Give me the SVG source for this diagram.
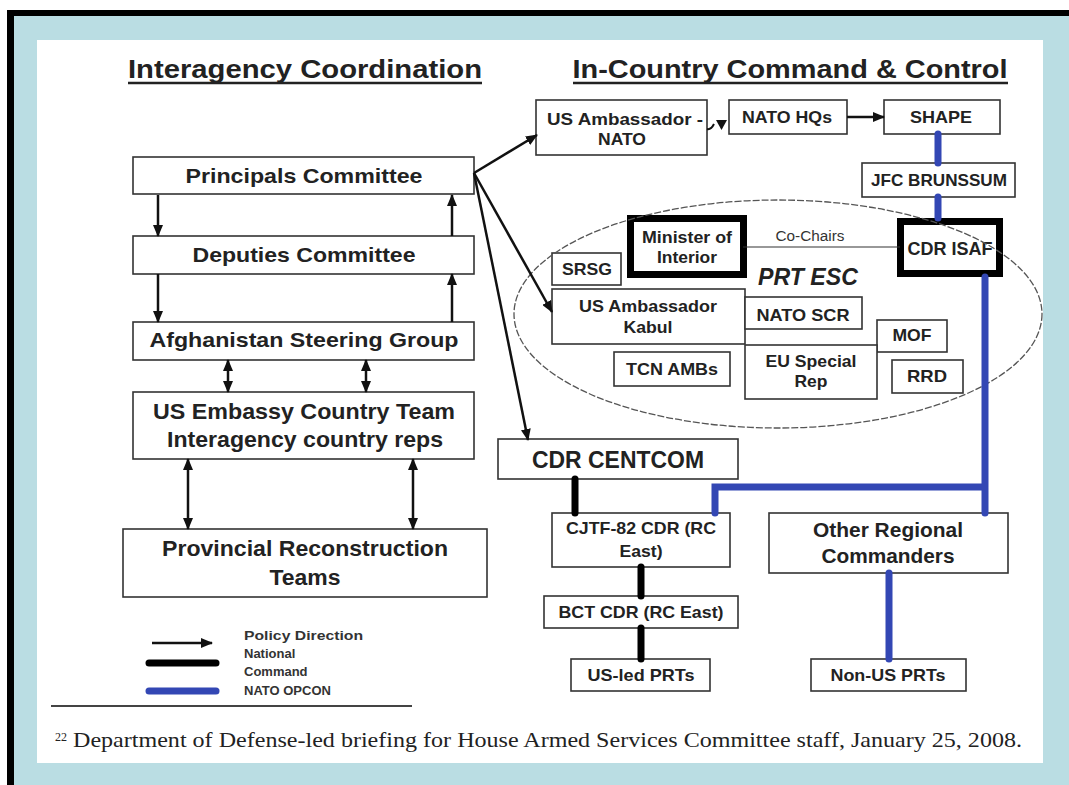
<svg xmlns="http://www.w3.org/2000/svg" width="1069" height="785" viewBox="0 0 1069 785">
<style>
.box{fill:#fff;stroke:#333;stroke-width:1.6}
.thick{fill:#fff;stroke:#000;stroke-width:7}
.t{font-family:"Liberation Sans",Arial,sans-serif;font-weight:bold;fill:#222;text-anchor:middle}
.s16{font-size:16.5px}
.s21{font-size:21px}
.arr{stroke:#111;stroke-width:2.5;fill:none;marker-end:url(#ah)}
.dbl{stroke:#111;stroke-width:2.5;fill:none;marker-start:url(#ah);marker-end:url(#ah)}
.nat{stroke:#000;stroke-width:7;stroke-linecap:round;fill:none}
.opc{stroke:#3347b4;stroke-width:7;stroke-linecap:round;fill:none}
</style>
<defs>
<marker id="ah" viewBox="0 0 12 10" refX="11" refY="5" markerWidth="12" markerHeight="10" markerUnits="userSpaceOnUse" orient="auto-start-reverse">
<path d="M0,0 L12,5 L0,10 z" fill="#111"/>
</marker>
</defs>
<rect x="0" y="0" width="1069" height="785" fill="#fff"/>
<rect x="7" y="10" width="1062" height="775" fill="#000"/>
<rect x="14" y="16" width="1055" height="769" fill="#badde3"/>
<rect x="37" y="40" width="1006" height="723" fill="#fff"/>

<g id="titles">
<text class="t" x="305" y="78" font-size="26" textLength="354" lengthAdjust="spacingAndGlyphs">Interagency Coordination</text>
<line x1="128" y1="83" x2="482" y2="83" stroke="#222" stroke-width="2.5"/>
<text class="t" x="790" y="78" font-size="26" textLength="435" lengthAdjust="spacingAndGlyphs">In-Country Command &amp; Control</text>
<line x1="573" y1="83" x2="1008" y2="83" stroke="#222" stroke-width="2.5"/>
</g>

<g id="principals"><rect class="box" x="133" y="157" width="341" height="37"/><text class="t s21" x="304" y="183" textLength="237" lengthAdjust="spacingAndGlyphs">Principals Committee</text></g>
<g id="deputies"><rect class="box" x="133" y="236" width="341" height="38"/><text class="t s21" x="304" y="262" textLength="223" lengthAdjust="spacingAndGlyphs">Deputies Committee</text></g>
<g id="asg"><rect class="box" x="133" y="322" width="341" height="38"/><text class="t s21" x="304" y="347" textLength="309" lengthAdjust="spacingAndGlyphs">Afghanistan Steering Group</text></g>
<g id="embassy"><rect class="box" x="133" y="392" width="341" height="67"/><text class="t" font-size="22.5" x="304" y="419" textLength="302" lengthAdjust="spacingAndGlyphs">US Embassy Country Team</text><text class="t" font-size="22.5" x="305" y="447" textLength="276" lengthAdjust="spacingAndGlyphs">Interagency country reps</text></g>
<g id="prts"><rect class="box" x="123" y="529" width="364" height="68"/><text class="t" font-size="22" x="305" y="556" textLength="286" lengthAdjust="spacingAndGlyphs">Provincial Reconstruction</text><text class="t" font-size="22" x="305" y="585" textLength="71" lengthAdjust="spacingAndGlyphs">Teams</text></g>

<g id="usamb-nato"><rect class="box" x="536" y="100" width="171" height="55"/><text class="t s16" x="625" y="125" textLength="156" lengthAdjust="spacingAndGlyphs">US Ambassador -</text><text class="t s16" x="622" y="145" textLength="48" lengthAdjust="spacingAndGlyphs">NATO</text></g>
<g id="nato-hqs"><rect class="box" x="729" y="100" width="118" height="34"/><text class="t s16" x="787" y="123" textLength="90" lengthAdjust="spacingAndGlyphs">NATO HQs</text></g>
<g id="shape"><rect class="box" x="884" y="100" width="116" height="34"/><text class="t s16" x="941" y="123" textLength="62" lengthAdjust="spacingAndGlyphs">SHAPE</text></g>
<g id="jfc"><rect class="box" x="862" y="163" width="153" height="34"/><text class="t s16" x="939" y="186" textLength="136" lengthAdjust="spacingAndGlyphs">JFC BRUNSSUM</text></g>

<g id="minister"><rect class="thick" x="630.5" y="218.5" width="113" height="56"/><text class="t s16" x="687" y="243" textLength="90" lengthAdjust="spacingAndGlyphs">Minister of</text><text class="t s16" x="687" y="263" textLength="60" lengthAdjust="spacingAndGlyphs">Interior</text></g>
<g id="cdr-isaf"><rect class="thick" x="900.5" y="221.5" width="99" height="52"/><text class="t" font-size="18" x="950" y="255" textLength="85" lengthAdjust="spacingAndGlyphs">CDR ISAF</text></g>
<g id="srsg"><rect class="box" x="552" y="253" width="69" height="32"/><text class="t s16" x="587" y="275" textLength="50" lengthAdjust="spacingAndGlyphs">SRSG</text></g>
<g id="usamb-kabul"><rect class="box" x="552" y="289" width="193" height="55"/><text class="t s16" x="648" y="312" textLength="138" lengthAdjust="spacingAndGlyphs">US Ambassador</text><text class="t s16" x="648" y="333" textLength="49" lengthAdjust="spacingAndGlyphs">Kabul</text></g>
<g id="nato-scr"><rect class="box" x="745" y="297" width="117" height="32"/><text class="t s16" x="803" y="321" textLength="93" lengthAdjust="spacingAndGlyphs">NATO SCR</text></g>
<g id="mof"><rect class="box" x="877" y="320" width="70" height="32"/><text class="t s16" x="912" y="341" textLength="39" lengthAdjust="spacingAndGlyphs">MOF</text></g>
<g id="eu-rep"><rect class="box" x="745" y="345" width="132" height="54"/><text class="t s16" x="811" y="367" textLength="91" lengthAdjust="spacingAndGlyphs">EU Special</text><text class="t s16" x="811" y="387" textLength="33" lengthAdjust="spacingAndGlyphs">Rep</text></g>
<g id="tcn"><rect class="box" x="614" y="352" width="116" height="34"/><text class="t s16" x="672" y="375" textLength="92" lengthAdjust="spacingAndGlyphs">TCN AMBs</text></g>
<g id="rrd"><rect class="box" x="892" y="360" width="71" height="33"/><text class="t s16" x="927" y="382" textLength="40" lengthAdjust="spacingAndGlyphs">RRD</text></g>
<g id="prt-esc">
<ellipse cx="778" cy="314" rx="264" ry="114" fill="none" stroke="#555" stroke-width="1.3" stroke-dasharray="7 2"/>
<text class="t" font-size="23" font-style="italic" x="808" y="285" textLength="100" lengthAdjust="spacingAndGlyphs">PRT ESC</text>
</g>

<g id="centcom"><rect class="box" x="498" y="439" width="240" height="40"/><text class="t" font-size="23" x="618" y="468" textLength="172" lengthAdjust="spacingAndGlyphs">CDR CENTCOM</text></g>
<g id="cjtf"><rect class="box" x="552" y="513" width="178" height="54"/><text class="t s16" x="641" y="534" textLength="150" lengthAdjust="spacingAndGlyphs">CJTF-82 CDR (RC</text><text class="t s16" x="641" y="557" textLength="43" lengthAdjust="spacingAndGlyphs">East)</text></g>
<g id="bct"><rect class="box" x="544" y="596" width="194" height="32"/><text class="t s16" x="641" y="618" textLength="165" lengthAdjust="spacingAndGlyphs">BCT CDR (RC East)</text></g>
<g id="us-prts"><rect class="box" x="571" y="659" width="139" height="32"/><text class="t s16" x="641" y="681" textLength="107" lengthAdjust="spacingAndGlyphs">US-led PRTs</text></g>
<g id="other-rc"><rect class="box" x="769" y="513" width="239" height="60"/><text class="t" font-size="20" x="888" y="537" textLength="150" lengthAdjust="spacingAndGlyphs">Other Regional</text><text class="t" font-size="20" x="888" y="563" textLength="133" lengthAdjust="spacingAndGlyphs">Commanders</text></g>
<g id="nonus-prts"><rect class="box" x="811" y="659" width="155" height="32"/><text class="t s16" x="888" y="681" textLength="115" lengthAdjust="spacingAndGlyphs">Non-US PRTs</text></g>

<g id="connectors">
<line class="arr" x1="158" y1="195" x2="158" y2="236"/>
<line class="arr" x1="452" y1="236" x2="452" y2="195"/>
<line class="arr" x1="158" y1="274" x2="158" y2="322"/>
<line class="arr" x1="452" y1="322" x2="452" y2="274"/>
<line class="dbl" x1="228" y1="360" x2="228" y2="392"/>
<line class="dbl" x1="366" y1="360" x2="366" y2="392"/>
<line class="dbl" x1="188" y1="459" x2="188" y2="529"/>
<line class="dbl" x1="413" y1="459" x2="413" y2="529"/>
<line class="arr" x1="474" y1="173" x2="537" y2="135"/>
<line class="arr" x1="474" y1="173" x2="552" y2="312"/>
<line class="arr" x1="474" y1="173" x2="528" y2="440"/>
<path d="M707,129 Q711,130 714,124" stroke="#111" stroke-width="2" fill="none"/>
<polygon points="716,120 727,120 721.5,130" fill="#111"/>
<line class="arr" x1="847" y1="117" x2="884" y2="117"/>
<line x1="743" y1="247" x2="900" y2="247" stroke="#333" stroke-width="1.2"/>
<text x="810" y="241" font-family="Liberation Sans, Arial, sans-serif" font-size="14" fill="#333" text-anchor="middle" textLength="69" lengthAdjust="spacingAndGlyphs">Co-Chairs</text>
<line class="opc" x1="938" y1="134" x2="938" y2="163"/>
<line class="opc" x1="938" y1="197" x2="938" y2="218"/>
<path class="opc" d="M985,277 V513 M985,487 H715 V513" stroke-linecap="butt"/>
<line class="opc" x1="889" y1="573" x2="889" y2="659"/>
<line class="nat" x1="575" y1="479" x2="575" y2="513"/>
<line class="nat" x1="641" y1="567" x2="641" y2="596"/>
<line class="nat" x1="641" y1="628" x2="641" y2="659"/>
</g>

<g id="legend">
<line class="arr" x1="152" y1="643" x2="212" y2="643"/>
<line class="nat" x1="149" y1="663" x2="216" y2="663"/>
<line class="opc" x1="149" y1="691" x2="216" y2="691" stroke-width="8"/>
<g font-family="Liberation Sans, Arial, sans-serif" font-weight="bold" font-size="13" fill="#333">
<text x="244" y="640" textLength="119" lengthAdjust="spacingAndGlyphs">Policy Direction</text>
<text x="244" y="658">National</text>
<text x="244" y="676">Command</text>
<text x="244" y="695">NATO OPCON</text>
</g>
</g>

<g id="footnote">
<line x1="51" y1="706" x2="412" y2="706" stroke="#444" stroke-width="2"/>
<text x="55" y="741" font-family="Liberation Serif, Times New Roman, serif" font-size="12" fill="#222">22</text>
<text x="73" y="747" font-family="Liberation Serif, Times New Roman, serif" font-size="22" fill="#222" textLength="949" lengthAdjust="spacingAndGlyphs">Department of Defense-led briefing for House Armed Services Committee staff, January 25, 2008.</text>
</g>
</svg>
